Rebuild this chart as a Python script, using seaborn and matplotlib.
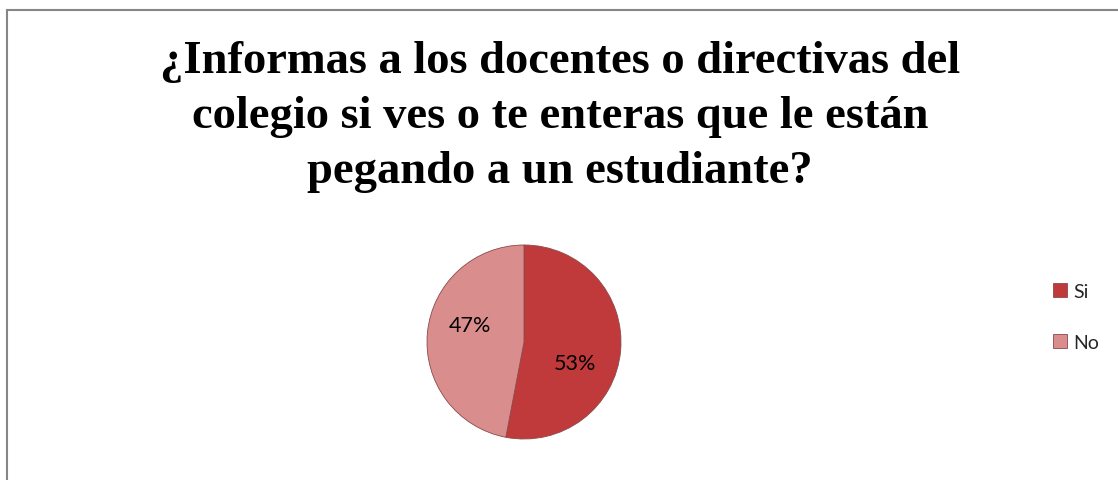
import matplotlib
matplotlib.use("Agg")
import matplotlib.pyplot as plt
import seaborn as sns
from matplotlib.patches import Rectangle

# datos del grafico
categorias = ["Si", "No"]
porcentajes = [53, 47]
colores = ["#C0393B", "#DA8D8D"]
titulo = ("¿Informas a los docentes o directivas del\n"
          "colegio si ves o te enteras que le están\n"
          "pegando a un estudiante?")

sns.set_theme(style="white")
plt.rcParams['font.family'] = ['Lato', 'DejaVu Sans']

fig = plt.figure(figsize=(11.18, 4.81), dpi=100)
W, H = 1118, 481

# marco gris del area del grafico
fig.add_artist(Rectangle((7 / W, -0.01), 1.02, (H - 11) / H + 0.01,
                         transform=fig.transFigure, fill=False,
                         edgecolor="#868686", linewidth=1.5))

# titulo
fig.text(560 / W, 1 - 41 / H, titulo, ha="center", va="top",
         fontsize=33.5, fontweight="bold", family="Liberation Serif",
         color="black", linespacing=1.41)

# pastel
r = 97
cx, cy = 524, 343
ax = fig.add_axes([(cx - r) / W, (H - cy - r) / H, 2 * r / W, 2 * r / H])
wedges, textos, autotextos = ax.pie(
    porcentajes, colors=colores, startangle=90, counterclock=False,
    autopct="%1.0f%%", pctdistance=0.6,
    wedgeprops=dict(edgecolor="#8a4a4a", linewidth=0.6),
    textprops=dict(fontsize=15.5, color="black"))
# etiquetas colocadas como en Excel
autotextos[0].set_position((0.53, -0.22))
autotextos[1].set_position((-0.56, 0.18))
ax.set_xlim(-1.0, 1.0)
ax.set_ylim(-1.0, 1.0)
ax.set_aspect("equal")

# leyenda
fig.legend(wedges, categorias, loc="center left",
           bbox_to_anchor=(1035 / W, 1 - 318 / H), frameon=False,
           fontsize=14, handlelength=0.75, handleheight=0.75,
           handletextpad=0.3, labelspacing=1.75)

fig.savefig("out.png", dpi=100)
